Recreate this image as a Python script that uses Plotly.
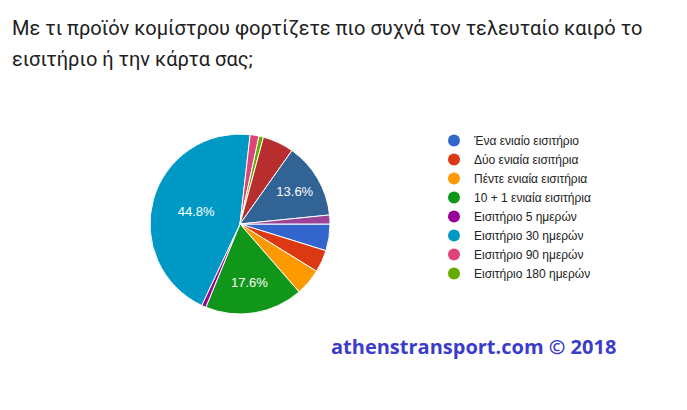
import plotly.graph_objects as go

labels = ["Ένα ενιαίο εισιτήριο", "Δύο ενιαία εισιτήρια", "Πέντε ενιαία εισιτήρια",
          "10 + 1 ενιαία εισιτήρια", "Εισιτήριο 5 ημερών", "Εισιτήριο 30 ημερών",
          "Εισιτήριο 90 ημερών", "Εισιτήριο 180 ημερών",
          "Κατηγορία 9", "Κατηγορία 10", "Κατηγορία 11"]
counts = [6, 5, 6, 22, 1, 56, 2, 1, 7, 17, 2]
colors = ["#3366cc", "#dc3912", "#ff9900", "#109618", "#990099", "#0099c6",
          "#dd4477", "#66aa00", "#b82e2e", "#316395", "#994499"]
legend_count = 8
title_lines = ["Με τι προϊόν κομίστρου φορτίζετε πιο συχνά τον τελευταίο καιρό το",
               "εισιτήριο ή την κάρτα σας;"]

total = sum(counts)
texts = [f"{c / total * 100:.1f}%" if c / total > 0.1 else "" for c in counts]

W, H = 687, 410
OFF = 8  # page body margin


def px(x):
    return (x - OFF) / W


def py(y):
    return 1 - (y - OFF) / H


fig = go.Figure()
fig.add_trace(go.Pie(
    labels=labels, values=counts, sort=False, direction="clockwise", rotation=90,
    marker=dict(colors=colors, line=dict(color="white", width=1)),
    text=texts, textinfo="text", textposition="inside",
    insidetextorientation="horizontal",
    textfont=dict(family="Arial, Liberation Sans", size=13, color="white"),
    domain=dict(x=[px(150), px(330)], y=[py(314), py(134)]),
    showlegend=False, hoverinfo="label+percent",
))
for i in range(legend_count):
    fig.add_trace(go.Scatter(
        x=[None], y=[None], mode="markers", name=labels[i],
        marker=dict(color=colors[i], size=11, symbol="circle"),
    ))

annotations = []
for k, line in enumerate(title_lines):
    annotations.append(dict(
        text=line, x=px(10), y=py(28 + 31 * k), xref="paper", yref="paper",
        xanchor="left", yanchor="middle", showarrow=False,
        font=dict(family="Roboto", size=20, color="#212121")))
annotations.append(dict(
    text="<b>athenstransport.com © 2018</b>",
    x=px(474), y=py(346), xref="paper", yref="paper", xanchor="center", yanchor="middle",
    showarrow=False, font=dict(family="Open Sans", size=20, color="#3b3bcc")))

fig.update_layout(
    width=W, height=H, margin=dict(l=0, r=0, t=0, b=0),
    paper_bgcolor="white", plot_bgcolor="white",
    xaxis=dict(visible=False), yaxis=dict(visible=False),
    legend=dict(x=px(434), y=py(126), xanchor="left", yanchor="top",
                font=dict(family="Arial, Liberation Sans", size=12, color="#222222"),
                itemsizing="constant", tracegroupgap=0, bgcolor="rgba(0,0,0,0)"),
    annotations=annotations,
)
fig.write_html("out.html")
